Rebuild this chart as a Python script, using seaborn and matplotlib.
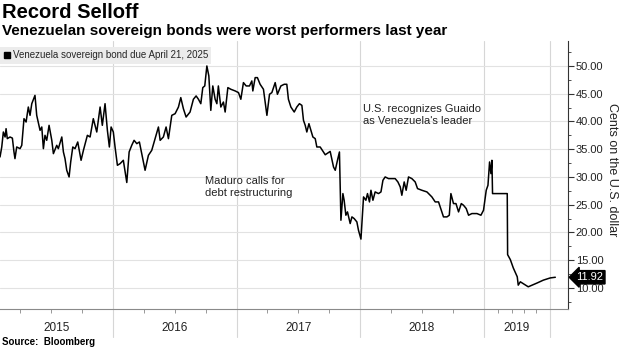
import matplotlib
matplotlib.use("Agg")
import matplotlib.pyplot as plt
import matplotlib.dates as mdates
import matplotlib.transforms as mtransforms
from matplotlib.ticker import FixedLocator, MultipleLocator, FuncFormatter, NullFormatter
from matplotlib.lines import Line2D
import seaborn as sns
import pandas as pd
import numpy as np

# ---------------- data ----------------
# time as decimal years, price in cents on the dollar
years = [
    2015.085, 2015.099, 2015.112, 2015.126, 2015.134, 2015.144, 2015.166, 2015.185,
    2015.198, 2015.206, 2015.220, 2015.247, 2015.261, 2015.279, 2015.296, 2015.314,
    2015.328, 2015.342, 2015.368, 2015.382, 2015.409, 2015.423, 2015.436, 2015.449,
    2015.463, 2015.482, 2015.504, 2015.517, 2015.544, 2015.557, 2015.585, 2015.598,
    2015.611, 2015.625, 2015.644, 2015.657, 2015.674, 2015.692, 2015.714, 2015.741,
    2015.760, 2015.792, 2015.814, 2015.840, 2015.868, 2015.895, 2015.913, 2015.935,
    2015.954, 2015.970, 2015.984, 2016.002, 2016.016, 2016.035, 2016.057, 2016.083,
    2016.111, 2016.130, 2016.151, 2016.170, 2016.192, 2016.213, 2016.232, 2016.259,
    2016.286, 2016.313, 2016.340, 2016.367, 2016.381, 2016.407, 2016.429, 2016.448,
    2016.475, 2016.502, 2016.529, 2016.548, 2016.569, 2016.591, 2016.623, 2016.650,
    2016.672, 2016.691, 2016.710, 2016.726, 2016.742, 2016.759, 2016.775, 2016.791,
    2016.807, 2016.826, 2016.840, 2016.852, 2016.872, 2016.893, 2016.907, 2016.929,
    2016.953, 2016.988, 2017.015, 2017.034, 2017.055, 2017.077, 2017.104, 2017.123,
    2017.131, 2017.150, 2017.168, 2017.190, 2017.217, 2017.245, 2017.266, 2017.285,
    2017.312, 2017.330, 2017.358, 2017.385, 2017.406, 2017.419, 2017.439, 2017.466,
    2017.487, 2017.508, 2017.528, 2017.541, 2017.555, 2017.568, 2017.585, 2017.601,
    2017.617, 2017.636, 2017.649, 2017.676, 2017.717, 2017.757, 2017.784, 2017.798,
    2017.816, 2017.832, 2017.844, 2017.860, 2017.870, 2017.884, 2017.897, 2017.919,
    2017.933, 2017.951, 2017.973, 2017.986, 2018.006, 2018.027, 2018.046, 2018.059,
    2018.075, 2018.087, 2018.103, 2018.121, 2018.148, 2018.168, 2018.184, 2018.202,
    2018.229, 2018.257, 2018.283, 2018.305, 2018.324, 2018.337, 2018.356, 2018.372,
    2018.391, 2018.418, 2018.445, 2018.464, 2018.499, 2018.540, 2018.580, 2018.607,
    2018.634, 2018.656, 2018.674, 2018.702, 2018.721, 2018.734, 2018.755, 2018.775,
    2018.796, 2018.818, 2018.836, 2018.858, 2018.877, 2018.904, 2018.945, 2018.977,
    2018.998, 2019.020, 2019.034, 2019.047, 2019.058, 2019.066, 2019.071, 2019.190,
    2019.193, 2019.215, 2019.239, 2019.271, 2019.279, 2019.296, 2019.360, 2019.433,
    2019.482, 2019.538, 2019.579,
]
prices = [
    33.6, 35.4, 38.1, 37.2, 38.7, 36.9, 37.2, 37.0,
    34.5, 33.3, 35.4, 35.1, 35.7, 40.5, 39.9, 42.6,
    41.1, 43.2, 44.7, 41.1, 38.4, 39.0, 35.1, 37.5,
    36.6, 39.3, 36.6, 34.2, 35.7, 35.1, 37.2, 34.5,
    33.3, 31.2, 30.0, 32.7, 35.4, 35.1, 36.3, 33.0,
    34.8, 37.5, 37.2, 40.5, 38.1, 42.6, 39.3, 43.2,
    38.4, 35.4, 39.0, 38.1, 35.4, 32.1, 32.4, 33.0,
    29.0, 34.5, 35.7, 36.6, 36.0, 36.3, 34.2, 31.2,
    33.9, 34.8, 36.9, 39.0, 36.6, 37.2, 39.0, 36.9,
    41.1, 41.4, 42.6, 44.3, 42.3, 40.8, 41.7, 44.0,
    44.6, 44.0, 43.2, 46.1, 46.4, 50.0, 48.2, 42.0,
    46.4, 44.0, 43.2, 46.4, 42.6, 43.5, 41.7, 46.1,
    45.8, 45.5, 45.2, 44.0, 47.0, 46.4, 46.4, 47.3,
    45.5, 47.9, 47.9, 46.7, 45.8, 41.1, 44.9, 45.2,
    47.0, 44.9, 46.4, 46.7, 46.7, 44.0, 42.6, 41.7,
    42.6, 43.2, 42.9, 40.2, 39.3, 38.1, 39.6, 38.4,
    37.2, 36.9, 35.4, 35.4, 34.0, 34.6, 31.8, 31.2,
    33.0, 34.5, 22.2, 27.0, 25.8, 23.1, 23.7, 21.6,
    22.8, 22.5, 21.9, 20.4, 18.8, 26.4, 25.8, 27.0,
    25.5, 27.6, 25.8, 27.3, 27.0, 27.3, 29.4, 30.0,
    29.7, 29.7, 29.7, 29.1, 28.2, 26.7, 29.1, 27.6,
    30.0, 29.7, 29.1, 27.9, 27.6, 27.3, 26.4, 25.5,
    25.5, 24.0, 22.8, 22.8, 23.1, 27.0, 25.2, 25.2,
    23.7, 25.2, 24.9, 24.3, 23.1, 23.4, 23.4, 23.1,
    24.0, 27.6, 28.5, 32.7, 30.6, 33.0, 27.0, 27.0,
    16.0, 15.1, 13.6, 12.0, 10.5, 11.1, 10.2, 10.9,
    11.4, 11.8, 11.92,
]
series_name = "Venezuela sovereign bond due April 21, 2025"
title_text = "Record Selloff"
subtitle_text = "Venezuelan sovereign bonds were worst performers last year"
source_text = "Source:  Bloomberg"
y_label = "Cents on the U.S. dollar"
y_ticks = [10, 15, 20, 25, 30, 35, 40, 45, 50]
year_labels = ["2015", "2016", "2017", "2018", "2019"]
year_bounds = ["2015-02-01", "2016-01-01", "2017-01-01", "2018-01-01", "2019-01-01", "2019-07-16"]
last_value = 11.92
note_maduro = "Maduro calls for\ndebt restructuring"
note_guaido = "U.S. recognizes Guaido\nas Venezuela's leader"

# ---------------- style ----------------
sns.set_theme(style="white")
plt.rcParams['font.family'] = ['Liberation Sans', 'DejaVu Sans']

yrs = np.asarray(years)
dates = pd.Timestamp("2015-01-01") + pd.to_timedelta((yrs - 2015.0) * 365.25, unit="D")
df = pd.DataFrame({"date": dates, "price": prices})

W, H = 620, 348
fig = plt.figure(figsize=(W / 100, H / 100), dpi=100)
ax_top, ax_bot, ax_right = 41, 309, 568
ax = fig.add_axes([0, 1 - ax_bot / H, ax_right / W, (ax_bot - ax_top) / H])

sns.lineplot(data=df, x="date", y="price", ax=ax, color="black", lw=1.1,
             estimator=None, legend=False, zorder=4)

x0 = pd.Timestamp("2015-02-01")
x1 = pd.Timestamp("2019-09-07")
ax.set_xlim(x0, x1)
ax.set_ylim(6.2, 54.5)

# y axis on the right
ax.yaxis.tick_right()
ax.yaxis.set_major_locator(FixedLocator(y_ticks))
ax.yaxis.set_minor_locator(MultipleLocator(2.5))
ax.yaxis.set_major_formatter(FuncFormatter(lambda v, p: f"{v:.2f}"))
ax.tick_params(axis="y", which="major", direction="out", length=4, width=0.8,
               color="#333333", labelsize=8, pad=1.5, labelcolor="#222222",
               right=True, left=False)
ax.tick_params(axis="y", which="minor", direction="out", length=2, width=0.6,
               color="#333333", right=True, left=False)
ax.set_ylabel("")
ax.set_xlabel("")

# x axis: quarterly minor ticks, no labels
minor_dates = ["2015-04-01", "2015-07-01", "2015-10-01",
               "2016-04-01", "2016-07-01", "2016-10-01",
               "2017-04-01", "2017-07-01", "2017-10-01",
               "2018-04-01", "2018-07-01", "2018-10-01",
               "2019-02-11", "2019-03-25", "2019-04-29", "2019-06-03"]
ax.xaxis.set_major_locator(FixedLocator([]))
ax.xaxis.set_minor_locator(FixedLocator(mdates.date2num(pd.to_datetime(minor_dates))))
ax.xaxis.set_minor_formatter(NullFormatter())
ax.tick_params(axis="x", which="minor", direction="out", length=3, width=0.6,
               color="#888888", bottom=True)

# grid
ax.grid(axis="y", which="major", color="#e2e2e2", lw=0.8, zorder=0)
ax.grid(axis="x", visible=False)
ext = (337 - ax_bot) / (ax_bot - ax_top)
for d in year_bounds[1:]:
    ax.axvline(pd.Timestamp(d), ymin=-ext, ymax=1, color="#d6d6d6", lw=0.8,
               clip_on=False, zorder=0)

# spines
for s in ["top", "left"]:
    ax.spines[s].set_visible(False)
ax.spines["bottom"].set_color("#8a8a8a")
ax.spines["bottom"].set_linewidth(0.8)
ax.spines["right"].set_color("#333333")
ax.spines["right"].set_linewidth(0.8)

# year labels
trans = mtransforms.blended_transform_factory(ax.transData, ax.transAxes)
yl_y = -(328 - ax_bot) / (ax_bot - ax_top)
bounds = pd.to_datetime(year_bounds)
for i, lab in enumerate(year_labels):
    mid = bounds[i] + (bounds[i + 1] - bounds[i]) / 2
    ax.text(mid, yl_y, lab, transform=trans, ha="center", va="center",
            fontsize=8.5, color="#222222", clip_on=False)

# legend
handle = Line2D([], [], marker="s", color="black", ls="none", markersize=4.5)
leg = ax.legend([handle], [series_name], loc="upper left",
                bbox_to_anchor=(0, 1 - 47 / H), bbox_transform=fig.transFigure,
                frameon=True, fancybox=False, facecolor="#ececec", edgecolor="none",
                framealpha=1, fontsize=7, borderpad=0.35, handletextpad=0.15,
                handlelength=0.8, borderaxespad=0)
leg.set_zorder(5)

# annotations
ax.text(pd.Timestamp("2016-09-28"), 28.2, note_maduro, ha="left", va="center",
        fontsize=8, color="#222222", linespacing=1.25)
ax.text(pd.Timestamp("2018-01-10"), 41.2, note_guaido, ha="left", va="center",
        fontsize=8, color="#222222", linespacing=1.25)

# last value label
trans_r = mtransforms.blended_transform_factory(ax.transAxes, ax.transData)
ax.annotate(f"{last_value:.2f}", xy=(1.0, last_value), xycoords=trans_r,
            xytext=(6, 0), textcoords="offset points", ha="left", va="center",
            fontsize=8, color="white", annotation_clip=False, zorder=6,
            bbox=dict(boxstyle="larrow,pad=0.15", fc="black", ec="black"))

# y label on right
fig.text(612 / W, 1 - 170 / H, y_label, rotation=270, ha="center", va="center",
         fontsize=9, color="#222222")

# titles and source
fig.text(2 / W, 1 - 13 / H, title_text, fontsize=14.5, weight="bold", va="center", color="black")
fig.text(2 / W, 1 - 31 / H, subtitle_text, fontsize=11, weight="bold", va="center", color="black")
fig.text(2 / W, 1 - 342 / H, source_text, fontsize=7, weight="bold", va="center", color="black")

fig.savefig("out.png", dpi=100)
